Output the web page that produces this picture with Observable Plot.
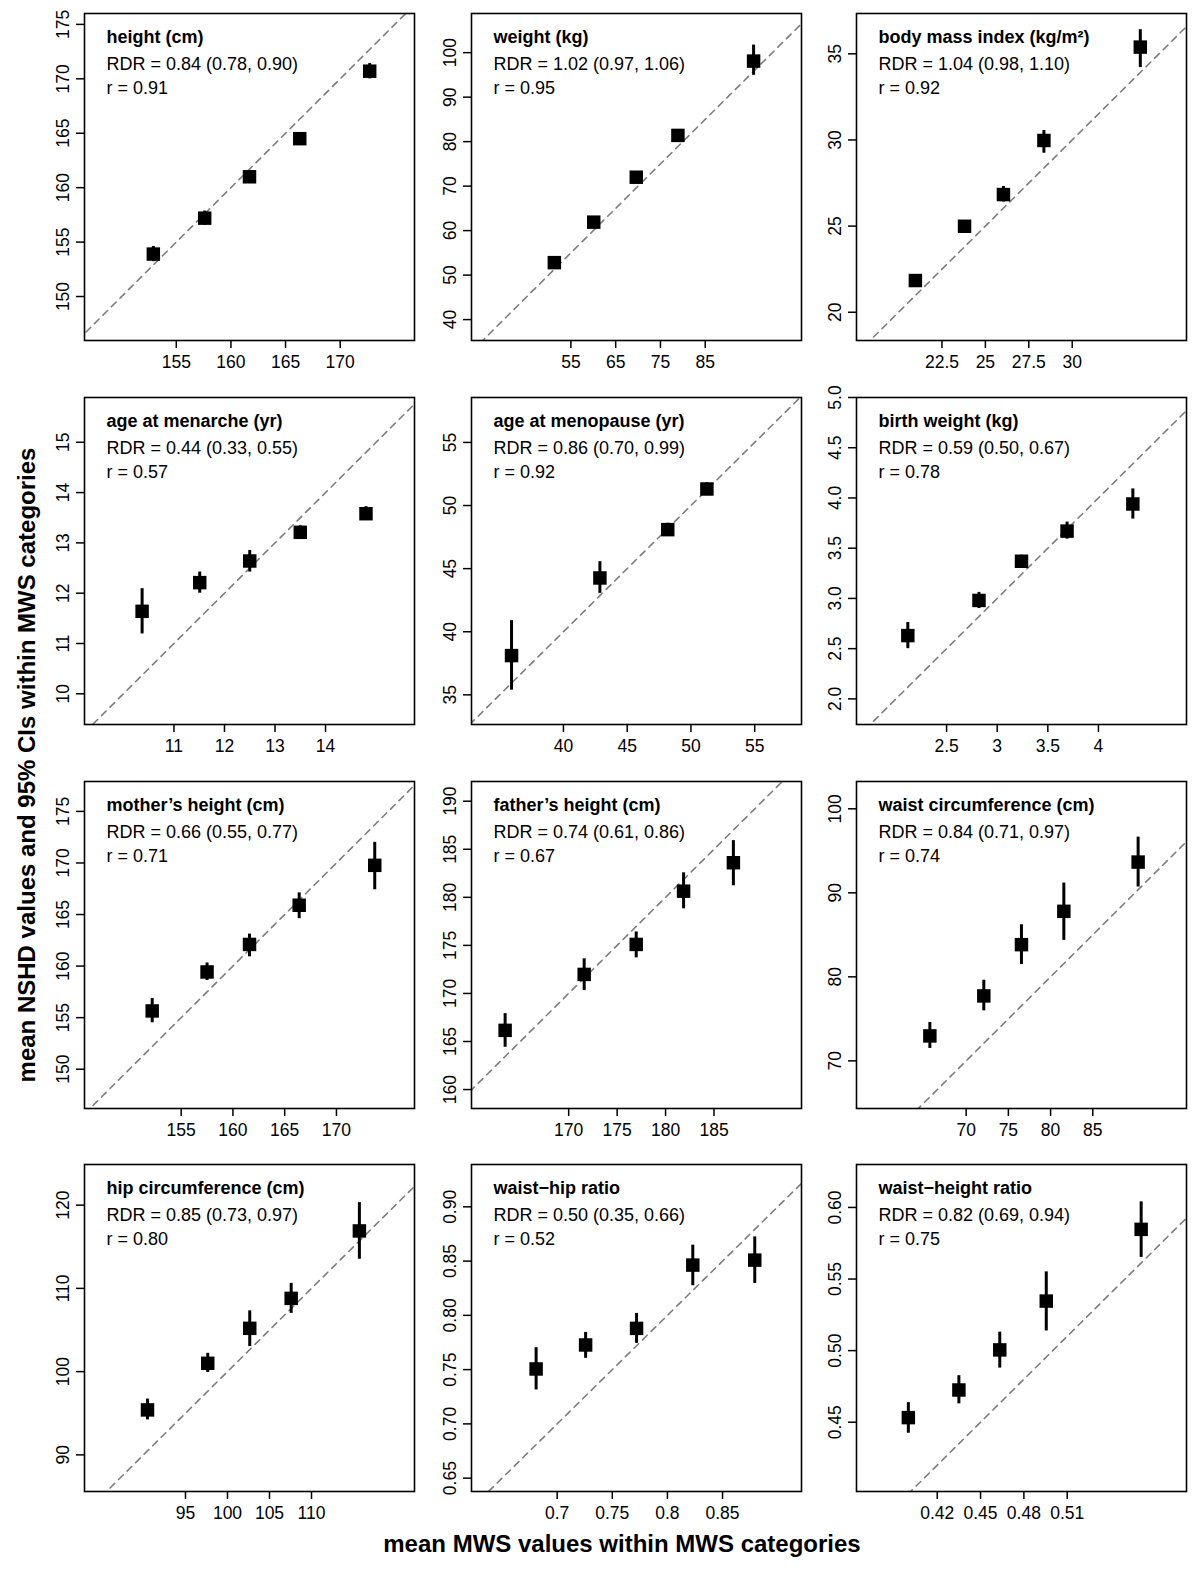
<!DOCTYPE html>
<html><head><meta charset="utf-8">
<script src="https://cdn.jsdelivr.net/npm/d3@7"></script>
<script src="https://cdn.jsdelivr.net/npm/@observablehq/plot@0.6"></script>
<style>
html,body{margin:0;padding:0;background:#fff;}
#page{position:relative;width:1200px;height:1577px;background:#fff;overflow:hidden;font-family:"Liberation Sans",Arial,Helvetica,sans-serif;}
.panel{position:absolute;}
#overlay{position:absolute;left:0;top:0;pointer-events:none;}
</style></head>
<body><div id="page"></div>
<script>
// ---------- DATA ----------
const panelTitles = ["height (cm)", "weight (kg)", "body mass index (kg/m\u00B2)",
  "age at menarche (yr)", "age at menopause (yr)", "birth weight (kg)",
  "mother\u2019s height (cm)", "father\u2019s height (cm)", "waist circumference (cm)",
  "hip circumference (cm)", "waist\u2212hip ratio", "waist\u2212height ratio"];
const rdrLabels = ["RDR = 0.84 (0.78, 0.90)", "RDR = 1.02 (0.97, 1.06)", "RDR = 1.04 (0.98, 1.10)",
  "RDR = 0.44 (0.33, 0.55)", "RDR = 0.86 (0.70, 0.99)", "RDR = 0.59 (0.50, 0.67)",
  "RDR = 0.66 (0.55, 0.77)", "RDR = 0.74 (0.61, 0.86)", "RDR = 0.84 (0.71, 0.97)",
  "RDR = 0.85 (0.73, 0.97)", "RDR = 0.50 (0.35, 0.66)", "RDR = 0.82 (0.69, 0.94)"];
const rLabels = ["r = 0.91", "r = 0.95", "r = 0.92", "r = 0.57", "r = 0.92", "r = 0.78",
  "r = 0.71", "r = 0.67", "r = 0.74", "r = 0.80", "r = 0.52", "r = 0.75"];

// mean MWS values (x)
const mwsMeans = [
  [152.9, 157.6, 161.7, 166.3, 172.7],
  [51.3, 60.1, 69.6, 78.9, 95.8],
  [20.97, 23.8, 26.04, 28.37, 33.92],
  [10.37, 11.51, 12.50, 13.5, 14.80],
  [35.93, 42.86, 48.18, 51.25],
  [2.117, 2.82, 3.24, 3.69, 4.34],
  [152.2, 157.5, 161.6, 166.4, 173.7],
  [163.44, 171.6, 176.97, 181.86, 187.0],
  [65.7, 72.09, 76.55, 81.57, 90.37],
  [90.48, 97.65, 102.65, 107.58, 115.7],
  [0.6809, 0.7258, 0.772, 0.823, 0.8792],
  [0.400, 0.435, 0.4633, 0.4955, 0.5612]
];
// mean NSHD values (y)
const nshdMeans = [
  [153.9, 157.2, 161.0, 164.5, 170.7],
  [52.8, 61.9, 72.0, 81.4, 98.1],
  [21.84, 24.99, 26.83, 29.97, 35.39],
  [11.64, 12.21, 12.64, 13.21, 13.58],
  [38.11, 44.26, 48.09, 51.31],
  [2.63, 2.98, 3.37, 3.67, 3.94],
  [155.65, 159.43, 162.1, 165.9, 169.77],
  [166.16, 171.98, 175.1, 180.64, 183.6],
  [72.97, 77.73, 83.83, 87.8, 93.66],
  [95.4, 101.0, 105.2, 108.8, 116.9],
  [0.7506, 0.7727, 0.788, 0.8463, 0.8509],
  [0.4532, 0.4725, 0.5005, 0.5346, 0.5847]
];
const ciLower = [
  [153.2, 156.55, 160.6, 164.1, 170.0],
  [51.8, 60.9, 71.0, 80.3, 94.9],
  [21.6, 24.8, 26.4, 29.23, 34.2],
  [11.19, 12.0, 12.42, 13.08, 13.45],
  [35.37, 43.04, 47.6, 50.8],
  [2.50, 2.90, 3.30, 3.59, 3.79],
  [154.5, 158.6, 160.9, 164.6, 167.4],
  [164.4, 170.3, 173.7, 178.8, 181.2],
  [71.48, 75.95, 81.46, 84.34, 90.69],
  [94.2, 99.9, 103.0, 107.0, 113.5],
  [0.7313, 0.7604, 0.7742, 0.8273, 0.8294],
  [0.4423, 0.4628, 0.4878, 0.5137, 0.5651]
];
const ciUpper = [
  [154.6, 157.85, 161.4, 164.9, 171.4],
  [53.8, 62.9, 73.0, 82.5, 101.7],
  [22.1, 25.2, 27.3, 30.55, 36.4],
  [12.09, 12.42, 12.85, 13.34, 13.72],
  [40.88, 45.55, 48.6, 51.8],
  [2.76, 3.06, 3.43, 3.76, 4.09],
  [156.85, 160.3, 163.1, 167.1, 172.0],
  [167.9, 173.6, 176.4, 182.55, 185.9],
  [74.57, 79.6, 86.2, 91.16, 96.63],
  [96.7, 102.2, 107.3, 110.6, 120.3],
  [0.7702, 0.7843, 0.8018, 0.8647, 0.8723],
  [0.4637, 0.4825, 0.5129, 0.555, 0.6039]
];

const xDomains = [
  [146.6, 176.8], [32.8, 106.5], [17.58, 36.58], [9.23, 15.76], [32.79, 58.67], [1.61, 4.87],
  [145.66, 177.54], [159.97, 194.03], [57.01, 96.1], [82.98, 122.26], [0.6223, 0.9216], [0.3641, 0.5926]
];
const yDomains = [
  [145.96, 176.0], [35.3, 108.8], [18.36, 37.34], [9.39, 15.89], [32.65, 58.56], [1.745, 5.0],
  [146.19, 177.9], [158.03, 192.05], [64.33, 103.25], [85.6, 124.88], [0.6377, 0.939], [0.4016, 0.630]
];

const xTicks = [
  [155, 160, 165, 170], [55, 65, 75, 85], [22.5, 25, 27.5, 30], [11, 12, 13, 14],
  [40, 45, 50, 55], [2.5, 3, 3.5, 4], [155, 160, 165, 170], [170, 175, 180, 185],
  [70, 75, 80, 85], [95, 100, 105, 110], [0.7, 0.75, 0.8, 0.85], [0.42, 0.45, 0.48, 0.51]
];
const xTickLabels = [
  ["155", "160", "165", "170"], ["55", "65", "75", "85"], ["22.5", "25", "27.5", "30"], ["11", "12", "13", "14"],
  ["40", "45", "50", "55"], ["2.5", "3", "3.5", "4"], ["155", "160", "165", "170"], ["170", "175", "180", "185"],
  ["70", "75", "80", "85"], ["95", "100", "105", "110"], ["0.7", "0.75", "0.8", "0.85"], ["0.42", "0.45", "0.48", "0.51"]
];
const yTicks = [
  [150, 155, 160, 165, 170, 175], [40, 50, 60, 70, 80, 90, 100], [20, 25, 30, 35], [10, 11, 12, 13, 14, 15],
  [35, 40, 45, 50, 55], [2.0, 2.5, 3.0, 3.5, 4.0, 4.5, 5.0], [150, 155, 160, 165, 170, 175], [160, 165, 170, 175, 180, 185, 190],
  [70, 80, 90, 100], [90, 100, 110, 120], [0.65, 0.70, 0.75, 0.80, 0.85, 0.90], [0.45, 0.50, 0.55, 0.60]
];
const yTickLabels = [
  ["150", "155", "160", "165", "170", "175"], ["40", "50", "60", "70", "80", "90", "100"], ["20", "25", "30", "35"], ["10", "11", "12", "13", "14", "15"],
  ["35", "40", "45", "50", "55"], ["2.0", "2.5", "3.0", "3.5", "4.0", "4.5", "5.0"], ["150", "155", "160", "165", "170", "175"], ["160", "165", "170", "175", "180", "185", "190"],
  ["70", "80", "90", "100"], ["90", "100", "110", "120"], ["0.65", "0.70", "0.75", "0.80", "0.85", "0.90"], ["0.45", "0.50", "0.55", "0.60"]
];

const yAxisTitle = "mean NSHD values and 95% CIs within MWS categories";
const xAxisTitle = "mean MWS values within MWS categories";

// ---------- LAYOUT ----------
const colLefts = [84, 471, 856];
const rowTops = [13, 397, 781, 1164];
const FW = 330, FH = 327;
const ML = 60, MR = 12, MT = 12, MB = 42;
const FONT = '"Liberation Sans", Arial, Helvetica, sans-serif';

const page = document.getElementById("page");

for (let i = 0; i < 12; i++) {
  const col = i % 3, row = Math.floor(i / 3);
  const pts = mwsMeans[i].map((x, j) => ({x, y: nshdMeans[i][j], lo: ciLower[i][j], hi: ciUpper[i][j]}));
  const lo = Math.min(xDomains[i][0], yDomains[i][0]);
  const hi = Math.max(xDomains[i][1], yDomains[i][1]);
  const xt = xTicks[i], yt = yTicks[i];
  const chart = Plot.plot({
    width: ML + FW + MR, height: MT + FH + MB,
    marginLeft: ML, marginRight: MR, marginTop: MT, marginBottom: MB,
    style: {fontFamily: FONT, fontSize: "17px", color: "black", background: "transparent", overflow: "visible"},
    x: {domain: xDomains[i]},
    y: {domain: yDomains[i]},
    marks: [
      Plot.line([[lo, lo], [hi, hi]], {stroke: "#7d7d7d", strokeWidth: 1.6, strokeDasharray: "6.5,5.5", clip: true}),
      Plot.ruleX(pts, {x: "x", y1: "lo", y2: "hi", stroke: "black", strokeWidth: 3}),
      Plot.dot(pts, {x: "x", y: "y", symbol: "square", r: 7.6, fill: "black", stroke: null}),
      Plot.frame({stroke: "black", strokeWidth: 1.6}),
      Plot.axisX(xt, {tickSize: 8, tickPadding: 7, strokeWidth: 1.5, label: null, fontSize: 17.5,
        tickFormat: d => xTickLabels[i][xt.indexOf(d)]}),
      Plot.axisY(yt, {tickSize: 8, tickPadding: 8, tickRotate: -90, strokeWidth: 1.5, label: null, fontSize: 17.5,
        tickFormat: d => yTickLabels[i][yt.indexOf(d)]}),
      Plot.text([panelTitles[i]], {text: d => d, frameAnchor: "top-left", dx: 22, dy: 29.5, lineAnchor: "bottom",
        textAnchor: "start", fontWeight: "bold", fontSize: 18, fill: "black"}),
      Plot.text([rdrLabels[i]], {text: d => d, frameAnchor: "top-left", dx: 22, dy: 56, lineAnchor: "bottom",
        textAnchor: "start", fontSize: 18, fill: "black"}),
      Plot.text([rLabels[i]], {text: d => d, frameAnchor: "top-left", dx: 22, dy: 80.5, lineAnchor: "bottom",
        textAnchor: "start", fontSize: 18, fill: "black"})
    ]
  });
  chart.classList.add("panel");
  chart.style.left = (colLefts[col] - ML) + "px";
  chart.style.top = (rowTops[row] - MT) + "px";
  chart.style.position = "absolute";
  page.appendChild(chart);
}

// global axis titles
const ns = "http://www.w3.org/2000/svg";
const ov = document.createElementNS(ns, "svg");
ov.setAttribute("id", "overlay");
ov.setAttribute("width", 1200);
ov.setAttribute("height", 1577);
const yt = document.createElementNS(ns, "text");
yt.setAttribute("transform", "translate(35,765) rotate(-90)");
yt.setAttribute("text-anchor", "middle");
yt.setAttribute("font-family", FONT);
yt.setAttribute("font-weight", "bold");
yt.setAttribute("font-size", "24");
yt.textContent = yAxisTitle;
ov.appendChild(yt);
const xtl = document.createElementNS(ns, "text");
xtl.setAttribute("x", 622);
xtl.setAttribute("y", 1552);
xtl.setAttribute("text-anchor", "middle");
xtl.setAttribute("font-family", FONT);
xtl.setAttribute("font-weight", "bold");
xtl.setAttribute("font-size", "24");
xtl.textContent = xAxisTitle;
ov.appendChild(xtl);
page.appendChild(ov);
</script>
</body></html>
